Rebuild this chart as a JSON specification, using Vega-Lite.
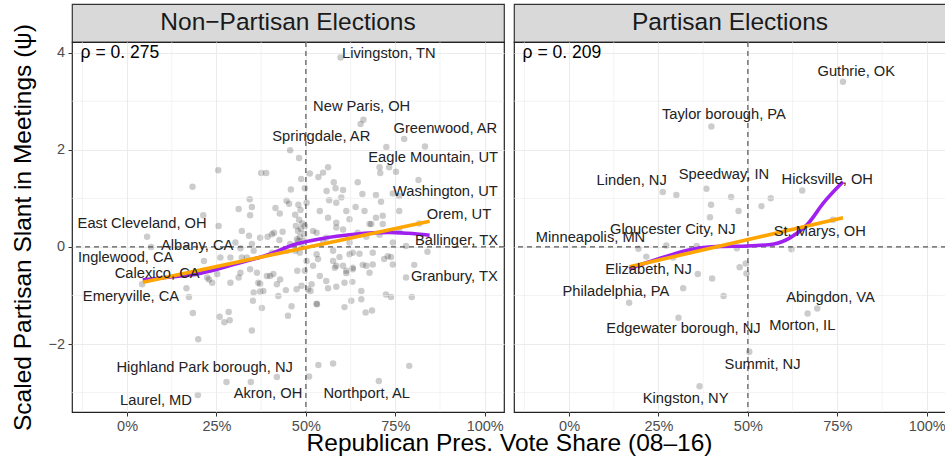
{
  "$schema": "https://vega.github.io/schema/vega-lite/v6.json",
  "padding": {"left": 9, "top": 3, "right": 0, "bottom": 0},
  "spacing": {"row": 0, "column": 10},
  "bounds": "flush",
  "columns": 2,
  "config": {
    "font": "Liberation Sans",
    "view": {"stroke": "#222222", "strokeWidth": 1.2},
    "axis": {
      "grid": true, "gridColor": "#ebebeb", "gridWidth": 1.1, "domain": false,
      "tickColor": "#333333", "tickSize": 4, "tickWidth": 1,
      "labelColor": "#4d4d4d", "labelFontSize": 14.5, "labelPadding": 3.5,
      "titleFontSize": 24.5, "titleFontWeight": "normal", "titleColor": "#000000"
    }
  },
  "datasets": {
    "leftPts": [
      {"x":0.597,"y":3.90},{"x":0.661,"y":2.62},{"x":0.653,"y":2.53},{"x":0.775,"y":2.22},{"x":0.833,"y":2.07},{"x":0.725,"y":2.06},{"x":0.456,"y":1.99},{"x":0.481,"y":1.83},{"x":0.255,"y":1.58},{"x":0.375,"y":1.52},{"x":0.389,"y":1.52},{"x":0.706,"y":1.64},{"x":0.733,"y":1.64},{"x":0.708,"y":1.52},{"x":0.752,"y":1.55},{"x":0.562,"y":1.64},{"x":0.548,"y":1.53},{"x":0.535,"y":1.44},{"x":0.511,"y":1.51},{"x":0.487,"y":1.40},{"x":0.578,"y":1.33},{"x":0.645,"y":1.33},{"x":0.815,"y":1.38},{"x":0.183,"y":1.24},{"x":0.458,"y":1.18},{"x":0.497,"y":1.21},{"x":0.558,"y":1.15},{"x":0.583,"y":1.21},{"x":0.604,"y":1.17},{"x":0.658,"y":1.09},{"x":0.696,"y":1.07},{"x":0.743,"y":1.10},{"x":0.761,"y":1.05},{"x":0.343,"y":0.98},{"x":0.446,"y":0.95},{"x":0.479,"y":0.87},{"x":0.502,"y":0.91},{"x":0.565,"y":0.96},{"x":0.585,"y":0.91},{"x":0.599,"y":1.02},{"x":0.710,"y":0.93},{"x":0.639,"y":0.82},{"x":0.312,"y":0.78},{"x":0.349,"y":0.82},{"x":0.415,"y":0.80},{"x":0.453,"y":0.89},{"x":0.344,"y":0.65},{"x":0.427,"y":0.69},{"x":0.213,"y":0.65},{"x":0.256,"y":0.43},{"x":0.321,"y":0.33},{"x":0.341,"y":0.23},{"x":0.372,"y":0.19},{"x":0.393,"y":0.21},{"x":0.411,"y":0.29},{"x":0.435,"y":0.31},{"x":0.472,"y":0.43},{"x":0.478,"y":0.33},{"x":0.483,"y":0.21},{"x":0.303,"y":0.09},{"x":0.349,"y":0.06},{"x":0.426,"y":0.14},{"x":0.479,"y":0.12},{"x":0.056,"y":0.21},{"x":0.067,"y":0.00},{"x":0.042,"y":-0.77},{"x":0.539,"y":0.74},{"x":0.664,"y":0.74},{"x":0.613,"y":0.74},{"x":0.622,"y":0.57},{"x":0.696,"y":0.60},{"x":0.761,"y":0.74},{"x":0.562,"y":0.60},{"x":0.585,"y":0.50},{"x":0.683,"y":0.47},{"x":0.715,"y":0.47},{"x":0.520,"y":0.33},{"x":0.604,"y":0.36},{"x":0.645,"y":0.29},{"x":0.669,"y":0.21},{"x":0.706,"y":0.25},{"x":0.493,"y":0.12},{"x":0.548,"y":0.12},{"x":0.761,"y":0.33},{"x":0.817,"y":0.48},{"x":0.405,"y":0.26},{"x":0.456,"y":0.06},{"x":0.481,"y":0.56},{"x":0.497,"y":0.43},{"x":0.530,"y":0.29},{"x":0.557,"y":0.19},{"x":0.585,"y":0.40},{"x":0.622,"y":0.09},{"x":0.678,"y":0.47},{"x":0.715,"y":0.64},{"x":0.743,"y":0.09},{"x":0.780,"y":0.02},{"x":0.840,"y":-0.10},{"x":0.729,"y":-0.19},{"x":0.215,"y":-0.29},{"x":0.261,"y":-0.22},{"x":0.321,"y":-0.22},{"x":0.354,"y":-0.08},{"x":0.405,"y":-0.12},{"x":0.446,"y":-0.08},{"x":0.483,"y":-0.12},{"x":0.530,"y":-0.15},{"x":0.576,"y":-0.29},{"x":0.631,"y":-0.12},{"x":0.687,"y":-0.12},{"x":0.687,"y":-0.36},{"x":0.719,"y":-0.25},{"x":0.803,"y":-0.37},{"x":0.780,"y":-0.63},{"x":0.796,"y":-1.03},{"x":0.724,"y":-0.98},{"x":0.738,"y":-1.03},{"x":0.166,"y":-0.85},{"x":0.173,"y":-1.03},{"x":0.184,"y":-1.36},{"x":0.199,"y":-1.90},{"x":0.259,"y":-1.44},{"x":0.272,"y":-1.55},{"x":0.287,"y":-1.51},{"x":0.284,"y":-1.34},{"x":0.349,"y":-1.72},{"x":0.352,"y":-1.11},{"x":0.377,"y":-1.26},{"x":0.372,"y":-0.92},{"x":0.381,"y":-0.91},{"x":0.409,"y":-0.56},{"x":0.423,"y":-1.01},{"x":0.444,"y":-0.89},{"x":0.450,"y":-1.42},{"x":0.474,"y":-0.87},{"x":0.476,"y":-0.49},{"x":0.506,"y":-0.87},{"x":0.531,"y":-1.18},{"x":0.562,"y":-0.85},{"x":0.585,"y":-0.82},{"x":0.608,"y":-1.24},{"x":0.627,"y":-1.11},{"x":0.630,"y":-0.72},{"x":0.655,"y":-0.91},{"x":0.655,"y":-1.08},{"x":0.667,"y":-1.35},{"x":0.685,"y":-1.31},{"x":0.608,"y":-0.74},{"x":0.585,"y":-0.39},{"x":0.613,"y":-0.49},{"x":0.631,"y":-0.46},{"x":0.669,"y":-0.39},{"x":0.678,"y":-0.53},{"x":0.539,"y":-0.60},{"x":0.557,"y":-0.70},{"x":0.520,"y":-0.39},{"x":0.497,"y":-0.49},{"x":0.428,"y":-0.67},{"x":0.391,"y":-0.60},{"x":0.367,"y":-0.74},{"x":0.317,"y":-0.53},{"x":0.289,"y":-0.74},{"x":0.238,"y":-0.74},{"x":0.224,"y":-0.63},{"x":0.187,"y":-0.56},{"x":0.535,"y":-2.43},{"x":0.576,"y":-2.40},{"x":0.789,"y":-2.45},{"x":0.419,"y":-2.68},{"x":0.509,"y":-2.67},{"x":0.278,"y":-2.78},{"x":0.346,"y":-2.78},{"x":0.704,"y":-2.76},{"x":0.198,"y":-3.05},{"x":0.289,"y":-0.22},{"x":0.317,"y":-0.03},{"x":0.335,"y":-0.22},{"x":0.344,"y":-0.46},{"x":0.363,"y":-0.53},{"x":0.400,"y":-0.60},{"x":0.229,"y":-0.67},{"x":0.252,"y":-0.56},{"x":0.312,"y":-0.63},{"x":0.372,"y":-0.76},{"x":0.419,"y":-0.77},{"x":0.354,"y":-0.94},{"x":0.460,"y":-1.22},{"x":0.488,"y":-0.80},{"x":0.502,"y":-0.29},{"x":0.534,"y":-0.25},{"x":0.576,"y":-0.08},{"x":0.594,"y":-0.21},{"x":0.622,"y":-0.15},{"x":0.650,"y":-0.14},{"x":0.738,"y":-0.21},{"x":0.743,"y":-0.36},{"x":0.604,"y":-0.39},{"x":0.581,"y":-0.43},{"x":0.631,"y":-0.43},{"x":0.659,"y":-0.37},{"x":0.613,"y":-0.54},{"x":0.516,"y":-0.77},{"x":0.513,"y":-0.91},{"x":0.530,"y":-1.17},{"x":0.486,"y":0.37},{"x":0.475,"y":0.16},{"x":0.489,"y":0.00},{"x":0.470,"y":-0.08},{"x":0.490,"y":0.48},{"x":0.495,"y":0.26},{"x":0.470,"y":0.66},{"x":0.485,"y":0.76}
    ],
    "rightPts": [
      {"x":0.766,"y":3.40},{"x":0.398,"y":2.48},{"x":0.262,"y":1.13},{"x":0.300,"y":1.07},{"x":0.384,"y":1.20},{"x":0.453,"y":1.03},{"x":0.397,"y":0.87},{"x":0.564,"y":1.00},{"x":0.538,"y":0.84},{"x":0.652,"y":1.16},{"x":0.474,"y":0.74},{"x":0.394,"y":0.61},{"x":0.738,"y":0.56},{"x":0.194,"y":-0.04},{"x":0.272,"y":0.03},{"x":0.357,"y":0.02},{"x":0.216,"y":-0.20},{"x":0.291,"y":-0.22},{"x":0.469,"y":-0.03},{"x":0.622,"y":-0.05},{"x":0.494,"y":-0.34},{"x":0.477,"y":-0.42},{"x":0.496,"y":-0.55},{"x":0.360,"y":-0.56},{"x":0.400,"y":-0.65},{"x":0.319,"y":-0.85},{"x":0.432,"y":-1.01},{"x":0.168,"y":-1.15},{"x":0.306,"y":-1.46},{"x":0.667,"y":-1.37},{"x":0.694,"y":-1.27},{"x":0.504,"y":-2.16},{"x":0.365,"y":-2.87}
    ],
    "leftLoess": [
      {"x":0.044,"y":-0.68},{"x":0.123,"y":-0.62},{"x":0.207,"y":-0.54},{"x":0.300,"y":-0.36},{"x":0.394,"y":-0.16},{"x":0.468,"y":0.05},{"x":0.543,"y":0.17},{"x":0.636,"y":0.26},{"x":0.730,"y":0.30},{"x":0.786,"y":0.28},{"x":0.846,"y":0.24}
    ],
    "leftLm": [{"x":0.044,"y":-0.73},{"x":0.846,"y":0.53}],
    "rightLoess": [
      {"x":0.168,"y":-0.45},{"x":0.257,"y":-0.23},{"x":0.331,"y":-0.07},{"x":0.424,"y":0.01},{"x":0.499,"y":0.02},{"x":0.573,"y":0.06},{"x":0.619,"y":0.19},{"x":0.666,"y":0.46},{"x":0.712,"y":0.91},{"x":0.766,"y":1.34}
    ],
    "rightLm": [{"x":0.169,"y":-0.41},{"x":0.766,"y":0.60}],
    "leftLabels": [
      {"x":0.732,"y":3.98,"label":"Livingston, TN"},{"x":0.656,"y":2.88,"label":"New Paris, OH"},{"x":0.543,"y":2.26,"label":"Springdale, AR"},{"x":0.890,"y":2.42,"label":"Greenwood, AR"},{"x":0.856,"y":1.84,"label":"Eagle Mountain, UT"},{"x":0.890,"y":1.13,"label":"Washington, UT"},{"x":0.928,"y":0.65,"label":"Orem, UT"},{"x":0.921,"y":0.12,"label":"Ballinger, TX"},{"x":0.915,"y":-0.63,"label":"Granbury, TX"},{"x":0.042,"y":0.47,"label":"East Cleveland, OH"},{"x":0.196,"y":0.01,"label":"Albany, CA"},{"x":-0.004,"y":-0.23,"label":"Inglewood, CA"},{"x":0.084,"y":-0.56,"label":"Calexico, CA"},{"x":0.011,"y":-1.03,"label":"Emeryville, CA"},{"x":0.217,"y":-2.49,"label":"Highland Park borough, NJ"},{"x":0.081,"y":-3.18,"label":"Laurel, MD"},{"x":0.394,"y":-3.03,"label":"Akron, OH"},{"x":0.670,"y":-3.02,"label":"Northport, AL"}
    ],
    "rightLabels": [
      {"x":0.803,"y":3.61,"label":"Guthrie, OK"},{"x":0.433,"y":2.71,"label":"Taylor borough, PA"},{"x":0.175,"y":1.35,"label":"Linden, NJ"},{"x":0.433,"y":1.48,"label":"Speedway, IN"},{"x":0.722,"y":1.38,"label":"Hicksville, OH"},{"x":0.290,"y":0.34,"label":"Gloucester City, NJ"},{"x":0.060,"y":0.19,"label":"Minneapolis, MN"},{"x":0.701,"y":0.31,"label":"St. Marys, OH"},{"x":0.222,"y":-0.47,"label":"Elizabeth, NJ"},{"x":0.131,"y":-0.93,"label":"Philadelphia, PA"},{"x":0.731,"y":-1.06,"label":"Abingdon, VA"},{"x":0.320,"y":-1.70,"label":"Edgewater borough, NJ"},{"x":0.652,"y":-1.62,"label":"Morton, IL"},{"x":0.541,"y":-2.43,"label":"Summit, NJ"},{"x":0.326,"y":-3.13,"label":"Kingston, NY"}
    ],
    "minorX": [{"x":-0.125},{"x":0.125},{"x":0.375},{"x":0.625},{"x":0.875}],
    "minorY": [{"y":-3},{"y":-1},{"y":1},{"y":3}],
    "refX": [{"x":0.5}],
    "refY": [{"y":0}],
    "leftRho": [{"x":-0.13,"y":4.0,"label":"ρ = 0. 275"}],
    "rightRho": [{"x":-0.13,"y":4.0,"label":"ρ = 0. 209"}]
  },
  "concat": [
    {
      "width": 432, "height": 38,
      "view": {"fill": "#d9d9d9", "stroke": "#333333", "strokeWidth": 1.2},
      "data": {"values": [{"panel": "Non−Partisan Elections"}]},
      "mark": {"type": "text", "fontSize": 24.5, "color": "#1a1a1a", "baseline": "middle", "align": "center"},
      "encoding": {"text": {"field": "panel"}}
    },
    {
      "width": 432, "height": 38,
      "view": {"fill": "#d9d9d9", "stroke": "#333333", "strokeWidth": 1.2},
      "data": {"values": [{"panel": "Partisan Elections"}]},
      "mark": {"type": "text", "fontSize": 24.5, "color": "#1a1a1a", "baseline": "middle", "align": "center"},
      "encoding": {"text": {"field": "panel"}}
    },
    {
      "width": 432, "height": 370,
      "layer": [
        {"data": {"name": "leftPts"}, "mark": {"type": "circle", "size": 42, "color": "#000000", "opacity": 0.2},
         "encoding": {
           "x": {"field": "x", "type": "quantitative", "scale": {"domain": [-0.154, 1.054], "nice": false, "zero": false},
                 "axis": {"values": [0, 0.25, 0.5, 0.75, 1], "format": ".0%", "title": "Republican Pres. Vote Share (08–16)",
                          "titleX": 437, "titleY": 38.5, "titleBaseline": "alphabetic", "titleAlign": "center"}},
           "y": {"field": "y", "type": "quantitative", "scale": {"domain": [-3.40, 4.22], "nice": false, "zero": false},
                 "axis": {"values": [-2, 0, 2, 4], "format": "d", "title": "Scaled Partisan Slant in Meetings (ψ)",
                          "titleX": -42, "titleBaseline": "alphabetic", "titleAngle": -90, "titleAlign": "center"}}
         }},
        {"data": {"name": "minorX"}, "mark": {"type": "rule", "stroke": "#ebebeb", "strokeWidth": 0.6, "zindex": 0},
         "encoding": {"x": {"field": "x", "type": "quantitative"}}},
        {"data": {"name": "minorY"}, "mark": {"type": "rule", "stroke": "#ebebeb", "strokeWidth": 0.6},
         "encoding": {"y": {"field": "y", "type": "quantitative"}}},
        {"data": {"name": "refX"}, "mark": {"type": "rule", "stroke": "#555555", "strokeWidth": 1.2, "strokeDash": [5, 4]},
         "encoding": {"x": {"field": "x", "type": "quantitative"}}},
        {"data": {"name": "refY"}, "mark": {"type": "rule", "stroke": "#555555", "strokeWidth": 1.2, "strokeDash": [5, 4]},
         "encoding": {"y": {"field": "y", "type": "quantitative"}}},
        {"data": {"name": "leftLoess"}, "mark": {"type": "line", "stroke": "#a020f0", "strokeWidth": 3.6, "interpolate": "monotone"},
         "encoding": {"x": {"field": "x", "type": "quantitative"}, "y": {"field": "y", "type": "quantitative"}}},
        {"data": {"name": "leftLm"}, "mark": {"type": "line", "stroke": "#ffa500", "strokeWidth": 3.6},
         "encoding": {"x": {"field": "x", "type": "quantitative"}, "y": {"field": "y", "type": "quantitative"}}},
        {"data": {"name": "leftLabels"}, "mark": {"type": "text", "fontSize": 14.7, "color": "#222222", "align": "center", "baseline": "middle"},
         "encoding": {"x": {"field": "x", "type": "quantitative"}, "y": {"field": "y", "type": "quantitative"}, "text": {"field": "label"}}},
        {"data": {"name": "leftRho"}, "mark": {"type": "text", "fontSize": 17.5, "color": "#000000", "align": "left", "baseline": "middle"},
         "encoding": {"x": {"field": "x", "type": "quantitative"}, "y": {"field": "y", "type": "quantitative"}, "text": {"field": "label"}}}
      ]
    },
    {
      "width": 432, "height": 370,
      "layer": [
        {"data": {"name": "rightPts"}, "mark": {"type": "circle", "size": 42, "color": "#000000", "opacity": 0.2},
         "encoding": {
           "x": {"field": "x", "type": "quantitative", "scale": {"domain": [-0.154, 1.054], "nice": false, "zero": false},
                 "axis": {"values": [0, 0.25, 0.5, 0.75, 1], "format": ".0%", "title": null}},
           "y": {"field": "y", "type": "quantitative", "scale": {"domain": [-3.40, 4.22], "nice": false, "zero": false},
                 "axis": {"values": [-2, 0, 2, 4], "labels": false, "ticks": false, "title": null}}
         }},
        {"data": {"name": "minorX"}, "mark": {"type": "rule", "stroke": "#ebebeb", "strokeWidth": 0.6},
         "encoding": {"x": {"field": "x", "type": "quantitative"}}},
        {"data": {"name": "minorY"}, "mark": {"type": "rule", "stroke": "#ebebeb", "strokeWidth": 0.6},
         "encoding": {"y": {"field": "y", "type": "quantitative"}}},
        {"data": {"name": "refX"}, "mark": {"type": "rule", "stroke": "#555555", "strokeWidth": 1.2, "strokeDash": [5, 4]},
         "encoding": {"x": {"field": "x", "type": "quantitative"}}},
        {"data": {"name": "refY"}, "mark": {"type": "rule", "stroke": "#555555", "strokeWidth": 1.2, "strokeDash": [5, 4]},
         "encoding": {"y": {"field": "y", "type": "quantitative"}}},
        {"data": {"name": "rightLoess"}, "mark": {"type": "line", "stroke": "#a020f0", "strokeWidth": 3.6, "interpolate": "monotone"},
         "encoding": {"x": {"field": "x", "type": "quantitative"}, "y": {"field": "y", "type": "quantitative"}}},
        {"data": {"name": "rightLm"}, "mark": {"type": "line", "stroke": "#ffa500", "strokeWidth": 3.6},
         "encoding": {"x": {"field": "x", "type": "quantitative"}, "y": {"field": "y", "type": "quantitative"}}},
        {"data": {"name": "rightLabels"}, "mark": {"type": "text", "fontSize": 14.7, "color": "#222222", "align": "center", "baseline": "middle"},
         "encoding": {"x": {"field": "x", "type": "quantitative"}, "y": {"field": "y", "type": "quantitative"}, "text": {"field": "label"}}},
        {"data": {"name": "rightRho"}, "mark": {"type": "text", "fontSize": 17.5, "color": "#000000", "align": "left", "baseline": "middle"},
         "encoding": {"x": {"field": "x", "type": "quantitative"}, "y": {"field": "y", "type": "quantitative"}, "text": {"field": "label"}}}
      ]
    }
  ]
}
